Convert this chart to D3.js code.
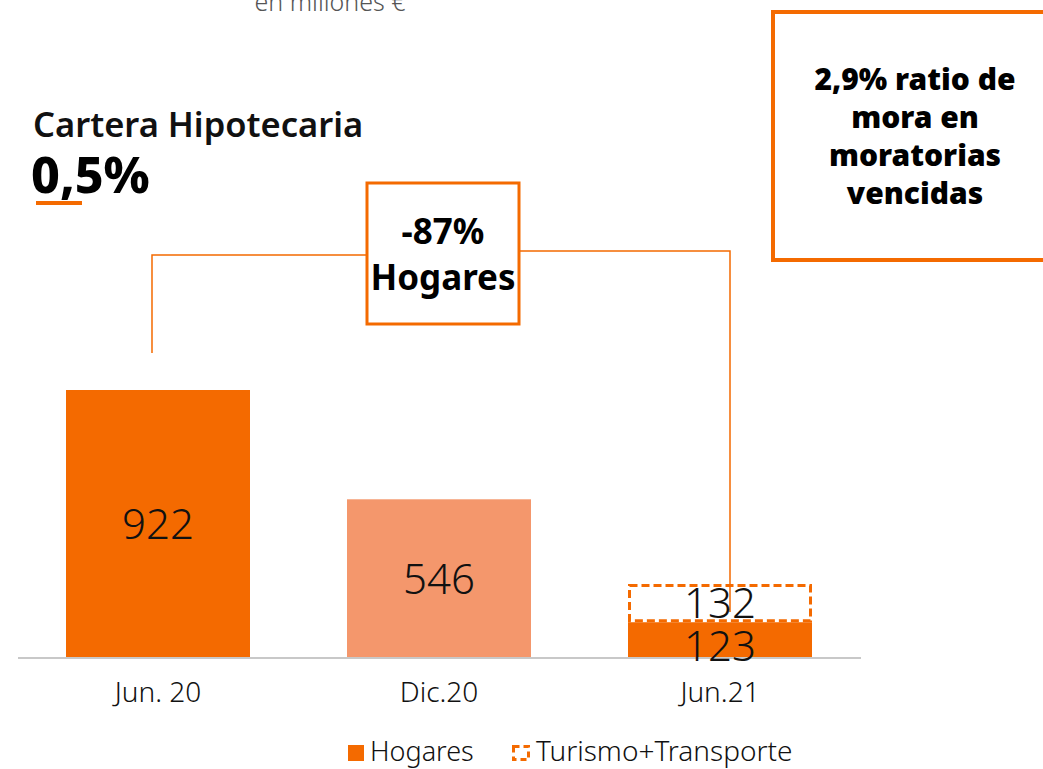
<!DOCTYPE html>
<html>
<head>
<meta charset="utf-8">
<script src="https://cdn.jsdelivr.net/npm/d3@7"></script>
<style>
  html, body { margin: 0; padding: 0; background: #fff; }
  svg { display: block; font-family: "Noto Sans", "Open Sans", sans-serif; }
</style>
</head>
<body>
<div id="chart"></div>
<script>
// data
var categories = ["Jun. 20", "Dic.20", "Jun.21"];
var hogares = [922, 546, 123];
var turismo = [0, 0, 132];
var hogaresColors = ["#f46a00", "#f4976c", "#f46a00"];
var legendLabels = ["Hogares", "Turismo+Transporte"];
var calloutLines = ["-87%", "Hogares"];
var ratioLines = ["2,9% ratio de", "mora en", "moratorias", "vencidas"];

var orange = "#f46a00";
var width = 1043, height = 769;

var svg = d3.select("#chart").append("svg")
  .attr("width", width)
  .attr("height", height);

var x = d3.scaleBand()
  .domain(categories)
  .range([66, 812])
  .paddingInner(0.3452)
  .paddingOuter(0);

var y = d3.scaleLinear()
  .domain([0, 922])
  .range([658, 390]);

// top subtitle
svg.append("text")
  .attr("x", 330).attr("y", 11)
  .attr("text-anchor", "middle")
  .attr("font-size", 25)
  .attr("font-weight", 300)
  .attr("fill", "#555")
  .text("en millones €");

// title
svg.append("text")
  .attr("x", 33).attr("y", 137)
  .attr("font-size", 34.5)
  .attr("font-weight", 600)
  .attr("fill", "#111")
  .text("Cartera Hipotecaria");

svg.append("text")
  .attr("x", 31).attr("y", 193)
  .attr("font-size", 50)
  .attr("font-weight", 800)
  .attr("fill", "#000")
  .text("0,5%");

svg.append("rect")
  .attr("x", 36).attr("y", 201)
  .attr("width", 46).attr("height", 4)
  .attr("fill", orange);

// bars
var barData = categories.map(function(c, i) {
  return { cat: c, h: hogares[i], t: turismo[i], color: hogaresColors[i] };
});

svg.selectAll(".bar")
  .data(barData)
  .enter().append("rect")
  .attr("class", "bar")
  .attr("x", function(d) { return x(d.cat); })
  .attr("y", function(d) { return y(d.h); })
  .attr("width", x.bandwidth())
  .attr("height", function(d) { return y(0) - y(d.h); })
  .attr("fill", function(d) { return d.color; });

svg.selectAll(".bar-t")
  .data(barData.filter(function(d) { return d.t > 0; }))
  .enter().append("rect")
  .attr("class", "bar-t")
  .attr("x", function(d) { return x(d.cat) + 1.5; })
  .attr("y", function(d) { return y(d.h + d.t) + 1.5; })
  .attr("width", x.bandwidth() - 3)
  .attr("height", function(d) { return y(d.h) - y(d.h + d.t) - 3; })
  .attr("fill", "#fff")
  .attr("stroke", orange)
  .attr("stroke-width", 3)
  .attr("stroke-dasharray", "8,4");

// baseline
svg.append("line")
  .attr("x1", 18).attr("x2", 861)
  .attr("y1", y(0)).attr("y2", y(0))
  .attr("stroke", "#c8c8c8")
  .attr("stroke-width", 2);

// connector lines
var cx0 = x(categories[0]) + x.bandwidth() / 2 - 6;
var cx2 = x(categories[2]) + x.bandwidth() / 2 + 10;
svg.append("path")
  .attr("d", "M" + cx0 + "," + (y(hogares[0]) - 37) + "V255H366")
  .attr("fill", "none")
  .attr("stroke", orange)
  .attr("stroke-width", 1.5);
svg.append("path")
  .attr("d", "M519,251H" + cx2 + "V" + (y(hogares[2] + turismo[2] / 2) + 9))
  .attr("fill", "none")
  .attr("stroke", orange)
  .attr("stroke-width", 1.5);

// value labels
svg.selectAll(".val")
  .data(barData)
  .enter().append("text")
  .attr("class", "val")
  .attr("x", function(d) { return x(d.cat) + x.bandwidth() / 2; })
  .attr("y", function(d, i) { return i === 2 ? y(0) + 3 : y(d.h / 2) + 15; })
  .attr("text-anchor", "middle")
  .attr("font-size", 42)
  .attr("font-weight", 300)
  .attr("fill", "#111")
  .text(function(d) { return d.h; });

svg.selectAll(".val-t")
  .data(barData.filter(function(d) { return d.t > 0; }))
  .enter().append("text")
  .attr("class", "val-t")
  .attr("x", function(d) { return x(d.cat) + x.bandwidth() / 2; })
  .attr("y", function(d) { return y(d.h + d.t / 2) + 15; })
  .attr("text-anchor", "middle")
  .attr("font-size", 42)
  .attr("font-weight", 300)
  .attr("fill", "#111")
  .text(function(d) { return d.t; });

// category axis
var xAxis = d3.axisBottom(x).tickSize(0).tickPadding(0);
var gx = svg.append("g")
  .attr("transform", "translate(0," + (y(0) + 24) + ")")
  .call(xAxis);
gx.select(".domain").remove();
gx.selectAll("text")
  .attr("font-size", 28)
  .attr("font-weight", 300)
  .attr("fill", "#111")
  .attr("font-family", "\"Noto Sans\", sans-serif");

// callout box
svg.append("rect")
  .attr("x", 367).attr("y", 183)
  .attr("width", 152).attr("height", 141)
  .attr("fill", "#fff")
  .attr("stroke", orange)
  .attr("stroke-width", 3);
svg.selectAll(".callout")
  .data(calloutLines)
  .enter().append("text")
  .attr("x", 443)
  .attr("y", function(d, i) { return 244 + i * 46; })
  .attr("text-anchor", "middle")
  .attr("font-size", 35)
  .attr("font-weight", 700)
  .attr("fill", "#000")
  .text(function(d) { return d; });

// ratio box
svg.append("rect")
  .attr("x", 773).attr("y", 12)
  .attr("width", 300).attr("height", 248)
  .attr("fill", "#fff")
  .attr("stroke", orange)
  .attr("stroke-width", 4);
svg.selectAll(".ratio")
  .data(ratioLines)
  .enter().append("text")
  .attr("x", 915)
  .attr("y", function(d, i) { return 90 + i * 38; })
  .attr("text-anchor", "middle")
  .attr("font-size", 30)
  .attr("font-weight", 900)
  .attr("fill", "#000")
  .text(function(d) { return d; });

// legend
var lg = svg.append("g");
lg.append("rect")
  .attr("x", 348).attr("y", 745)
  .attr("width", 16).attr("height", 16)
  .attr("fill", orange);
lg.append("text")
  .attr("x", 370).attr("y", 761)
  .attr("font-size", 27)
  .attr("font-weight", 300)
  .attr("fill", "#111")
  .text(legendLabels[0]);
lg.append("rect")
  .attr("x", 513.5).attr("y", 746.5)
  .attr("width", 15).attr("height", 13)
  .attr("fill", "#fff")
  .attr("stroke", orange)
  .attr("stroke-width", 3)
  .attr("stroke-dasharray", "6,4");
lg.append("text")
  .attr("x", 536).attr("y", 761)
  .attr("font-size", 28)
  .attr("font-weight", 300)
  .attr("fill", "#111")
  .text(legendLabels[1]);
</script>
</body>
</html>
